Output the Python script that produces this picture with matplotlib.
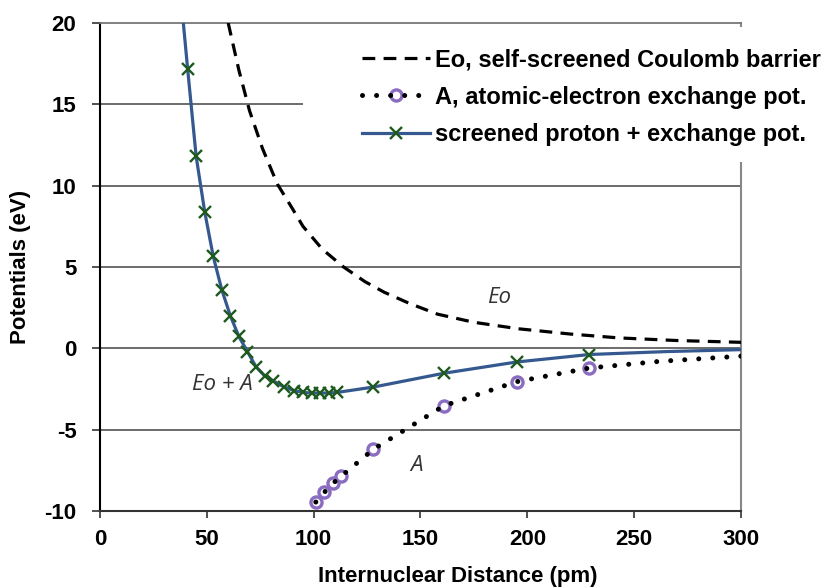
import matplotlib
matplotlib.use("Agg")
import matplotlib.pyplot as plt
from matplotlib.patches import Rectangle
from matplotlib.legend_handler import HandlerTuple

# Eo, self-screened Coulomb barrier
r_eo = [60, 65, 70, 76, 83, 90, 95, 104, 114, 124, 133, 145, 158, 175, 196, 220, 243, 270, 300]
v_eo = [20.0, 17.1, 14.6, 12.3, 10.1, 8.6, 7.5, 6.1, 5.0, 4.1, 3.45, 2.75, 2.1, 1.6, 1.2, 0.88, 0.64, 0.48, 0.37]

# A, atomic-electron exchange potential (circles), plus the dotted tail
r_a = [101, 105, 109, 113, 128, 161, 195, 229]
v_a = [-9.45, -8.85, -8.3, -7.85, -6.2, -3.53, -2.05, -1.21]
r_a_tail = [262, 300]
v_a_tail = [-0.8, -0.48]

# Eo + A, screened proton + exchange potential (x markers)
r_sum = [41, 45, 49, 53, 57, 61, 65, 69, 73, 77, 81, 86, 91, 95, 99, 103, 107, 111, 128, 161, 195, 229]
v_sum = [17.2, 11.8, 8.4, 5.65, 3.6, 2.0, 0.73, -0.2, -1.13, -1.68, -2.0, -2.36, -2.6, -2.71,
         -2.75, -2.75, -2.75, -2.71, -2.38, -1.53, -0.84, -0.38]
r_sum_start, v_sum_start = [39], [20.0]
r_sum_tail = [265, 300]
v_sum_tail = [-0.2, -0.08]

x_ticks = [0, 50, 100, 150, 200, 250, 300]
y_ticks = [-10, -5, 0, 5, 10, 15, 20]

labels = ["Eo, self-screened Coulomb barrier",
          "A, atomic-electron exchange pot.",
          "screened proton + exchange pot."]

plt.rcParams['font.family'] = ['Liberation Sans', 'DejaVu Sans']
plt.rcParams['axes.unicode_minus'] = False

fig = plt.figure(figsize=(8.35, 5.88), dpi=100)
ax = fig.add_axes([100 / 835, 1 - 511 / 588, 641 / 835, 488 / 588])

# gridlines
for y in y_ticks[1:-1]:
    ax.axhline(y, color='#444444', lw=1.1, zorder=1)

eo_line, = ax.plot(r_eo, v_eo, color='black', lw=2.3, linestyle=(0, (4.0, 2.6)), zorder=3)

a_marks, = ax.plot(r_a, v_a, linestyle='none', marker='o', ms=8, mfc='white',
                   mec='#8a6cc0', mew=2.4, zorder=3)
a_line, = ax.plot(r_a + r_a_tail, v_a + v_a_tail, color='black', lw=3.6,
                  linestyle=(0, (0.01, 2.8)), dash_capstyle='round', zorder=4)

sum_line, = ax.plot(r_sum_start + r_sum + r_sum_tail, v_sum_start + v_sum + v_sum_tail,
                    color='#35598f', lw=2.3, zorder=5)
sum_marks, = ax.plot(r_sum, v_sum, linestyle='none', marker='x', ms=8, mec='#1e5a1e',
                     mew=1.7, zorder=6)

ax.set_xlim(0, 300)
ax.set_ylim(-10, 20)
ax.set_xticks(x_ticks)
ax.set_yticks(y_ticks)
ax.tick_params(axis='x', direction='out', length=5, width=1.2, pad=8, labelsize=16, color='#333333')
ax.tick_params(axis='y', direction='out', length=6, width=1.2, pad=11, labelsize=16, color='#333333')
for lab in ax.get_xticklabels() + ax.get_yticklabels():
    lab.set_fontweight('bold')

ax.spines['left'].set_color('black')
ax.spines['left'].set_linewidth(1.5)
ax.spines['bottom'].set_color('#333333')
ax.spines['bottom'].set_linewidth(1.5)
ax.spines['top'].set_color('#777777')
ax.spines['top'].set_linewidth(1.3)
ax.spines['right'].set_color('#888888')
ax.spines['right'].set_linewidth(1.5)

ax.set_xlabel("Internuclear Distance (pm)", fontsize=16, fontweight='bold')
ax.set_ylabel("Potentials (eV)", fontsize=16, fontweight='bold')
ax.xaxis.set_label_coords(0.558, -0.113)
ax.yaxis.set_label_coords(-0.108, 0.5)

# curve labels
note_style = dict(fontsize=16, fontstyle='italic', color='#333333', family=['Open Sans', 'DejaVu Sans'],
                  ha='center', va='center')
ax.text(187, 3.1, "Eo", **note_style)
ax.text(57.3, -2.2, "Eo + A", **note_style)
ax.text(148, -7.2, "A", **note_style)

# white panel behind the legend, covering grid and right spine
fig.add_artist(Rectangle((303 / 835, 1 - 162 / 588), 1 - 303 / 835, 135 / 588,
                         transform=fig.transFigure, facecolor='white', edgecolor='none', zorder=4))

fig.legend([eo_line, (a_marks, a_line), (sum_line, sum_marks)], labels,
           handler_map={tuple: HandlerTuple(ndivide=1)},
           loc='upper left', bbox_to_anchor=(362 / 835, 1 - 48 / 588),
           frameon=False, borderpad=0, borderaxespad=0, handlelength=2.9, handletextpad=0.2,
           labelspacing=0.62, numpoints=1,
           prop={'size': 17, 'weight': 'bold'}).set_zorder(5)

fig.savefig("out.png", dpi=100)
